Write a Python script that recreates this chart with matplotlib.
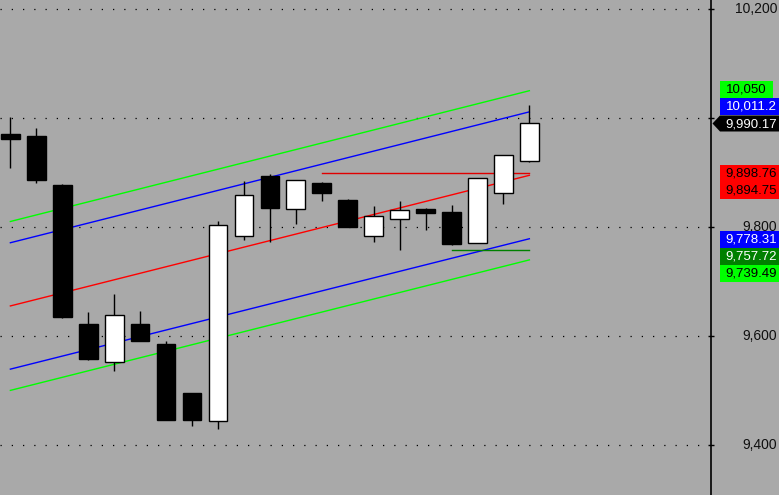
import numpy as np
import matplotlib
matplotlib.use("Agg")
import matplotlib.pyplot as plt
from matplotlib.patches import Rectangle, Polygon
from matplotlib.transforms import blended_transform_factory

# candle data
opens = [9970, 9967, 9877, 9622, 9553, 9622, 9585, 9495, 9443, 9784, 9894,
         9832, 9881, 9850, 9784, 9815, 9833, 9828, 9771, 9862, 9920.5]
highs = [10001, 9981, 9878, 9643, 9677, 9646, 9590, 9495, 9810, 9884, 9897,
         9886, 9883, 9851, 9839, 9848, 9835, 9840, 9889, 9932, 10024]
lows = [9909, 9881, 9633, 9556, 9536, 9590, 9445, 9434, 9430, 9776, 9773,
        9805, 9848, 9799, 9773, 9758, 9794, 9766, 9771, 9843, 9920]
closes = [9961, 9886, 9634, 9557, 9638, 9591, 9446, 9445, 9803, 9858, 9835,
          9886, 9863, 9799, 9820, 9831, 9826, 9769, 9889, 9932, 9990.17]

# regression channel: value at first and last candle
chan_start = [9810, 9771, 9655, 9539, 9500]
chan_end = [10050, 10011.2, 9894.75, 9778.31, 9739.49]
chan_colors = ['#00ff00', '#0000ff', '#ff0000', '#0000ff', '#00ff00']

# horizontal levels
hl_values = [9898.76, 9757.72]
hl_from = [12, 17]
hl_colors = ['#e00000', '#008000']

ytick_vals = [9400, 9600, 9800, 10000, 10200]
# 10,000 is hidden under the last-price tag in the reference
ytick_labels = ['9,400', '9,600', '9,800', '', '10,200']

# right-side price tags: text, box colour, text colour, centre (px from top)
tag_texts = ['10,050', '10,011.2', '9,898.76', '9,894.75', '9,778.31', '9,757.72', '9,739.49']
tag_faces = ['#00ff00', '#0000ff', '#ff0000', '#ff0000', '#0000ff', '#008000', '#00ff00']
tag_fg = ['black', 'white', 'black', 'black', 'white', 'white', 'black']
tag_y = [89.5, 106.5, 173.5, 190.5, 239.2, 256.2, 273.2]
last_label = '9,990.17'

bg = '#a9a9a9'
W, H = 779, 495
fig = plt.figure(figsize=(W / 100, H / 100), dpi=100)
fig.patch.set_facecolor(bg)
ax = fig.add_axes([0, 0, 711 / W, 1])
ax.set_facecolor(bg)

n = len(opens)
x = np.arange(n)
ax.set_xlim(-0.4, 27.0)
ax.set_ylim(9308, 10216.5)

for s in ['top', 'left', 'bottom']:
    ax.spines[s].set_visible(False)
ax.spines['right'].set_color('black')
ax.spines['right'].set_linewidth(1.2)
ax.set_xticks([])
ax.yaxis.tick_right()
ax.set_yticks(ytick_vals)
ax.set_yticklabels([])
ax.tick_params(axis='y', direction='inout', length=5, width=1, colors='black')

# dotted grid
for v in ytick_vals:
    ax.axhline(v, xmin=0, xmax=700 / 711, color='black', lw=0.9,
               linestyle=(0, (1, 8)), zorder=1)

# channel lines
for s0, s1, col in zip(chan_start, chan_end, chan_colors):
    ax.plot([0, n - 1], [s0, s1], color=col, lw=1, zorder=2)

# horizontal level lines
for v, i0, col in zip(hl_values, hl_from, hl_colors):
    ax.plot([i0, n - 1], [v, v], color=col, lw=1, zorder=2)

# candles
o = np.array(opens)
c = np.array(closes)
ax.vlines(x, lows, highs, color='black', lw=1, zorder=3)
body_col = ['white' if cc > oo else 'black' for oo, cc in zip(o, c)]
ax.bar(x, np.abs(c - o), bottom=np.minimum(o, c), width=0.72,
       color=body_col, edgecolor='black', linewidth=1, zorder=4)

# tick labels on right
tr = blended_transform_factory(fig.transFigure, ax.transData)
for v, lab in zip(ytick_vals, ytick_labels):
    if lab:
        ax.text(777 / W, v, lab, transform=tr, ha='right', va='center',
                fontsize=10, family='Liberation Sans', color='#101010', clip_on=False)

# price tags
def fx(px):
    return px / W


def fy(py):
    return 1 - py / H


bh = 17
for txt, fc, tc, yc in zip(tag_texts, tag_faces, tag_fg, tag_y):
    wpx = 53 if len(txt) <= 6 else 62
    fig.add_artist(Rectangle((fx(720), fy(yc + bh / 2)), wpx / W, bh / H,
                             transform=fig.transFigure, facecolor=fc,
                             edgecolor='none', zorder=5))
    fig.text(fx(725.5), fy(yc), txt, ha='left', va='center', fontsize=9.5,
             family='Liberation Sans', color=tc, zorder=6)

# last price tag with arrow
yc = 123.5
pts = [(fx(712.5), fy(yc)), (fx(720), fy(yc - 8)), (fx(782), fy(yc - 8)),
       (fx(782), fy(yc + 8)), (fx(720), fy(yc + 8))]
fig.add_artist(Polygon(pts, closed=True, transform=fig.transFigure,
                       facecolor='black', edgecolor='none', zorder=5))
fig.text(fx(725.5), fy(yc + 0.5), last_label, ha='left', va='center', fontsize=9.5,
         family='Liberation Sans', color='white', zorder=6)

fig.savefig('out.png', dpi=100, facecolor=bg)
